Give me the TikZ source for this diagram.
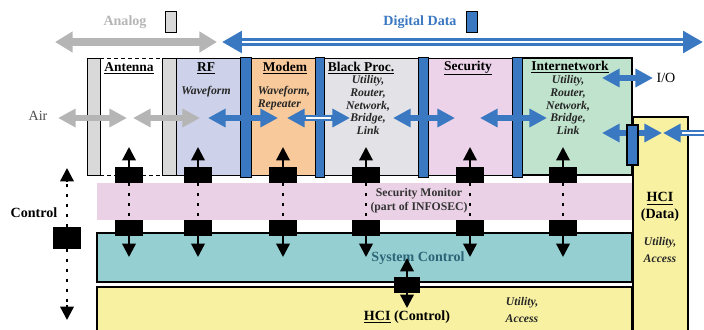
\documentclass[tikz,border=0pt]{standalone}
\usepackage{fontspec}
\setmainfont{Liberation Serif}
\usetikzlibrary{arrows.meta}
\definecolor{bluebar}{HTML}{3A78C2}
\definecolor{grayarr}{HTML}{B5B5B5}
\definecolor{barfill}{HTML}{D9D9D9}
\definecolor{rffill}{HTML}{CDD2EA}
\definecolor{modemfill}{HTML}{F8C99B}
\definecolor{blackfill}{HTML}{E3E3E7}
\definecolor{secfill}{HTML}{ECD3EA}
\definecolor{inetfill}{HTML}{BFE3CC}
\definecolor{monfill}{HTML}{EAD1E6}
\definecolor{sysfill}{HTML}{95CFD1}
\definecolor{hcifill}{HTML}{F8F1A2}
\definecolor{systext}{HTML}{2B6577}
\begin{document}
\begin{tikzpicture}[x=0.03cm,y=-0.03cm,
    lbl/.style={font=\fontsize{11.5}{13}\selectfont\bfseries},
    big/.style={font=\fontsize{12}{14}\selectfont\bfseries, align=center},
    sub/.style={font=\fontsize{10}{11}\selectfont\bfseries\itshape, align=center, text=black!85},
    garr/.style={grayarr, line width=4.3pt, {Triangle[width=15pt,length=15pt]}-{Triangle[width=15pt,length=15pt]}},
    barr/.style={garr, bluebar},
    dbl/.style={white, line width=1.5pt, shorten <=16pt, shorten >=16pt},
    varr/.style={line width=2pt, -{Triangle[width=11.5pt,length=11.5pt]}},
    dotline/.style={line width=2.5pt, dash pattern=on 2.5pt off 6pt},
    sq/.style={fill=black, inner sep=0pt, minimum width=24pt, minimum height=13.6pt},
    legendbox/.style={draw, line width=1pt, inner sep=0pt, minimum width=9pt, minimum height=18pt}]
      \useasboundingbox (0,0) rectangle (704,329);
      \node[big, text=grayarr] (analog) at (125,22) {Analog};
      \node[legendbox, fill=barfill] (akey) at (171,22) {};
      \node[big, text=bluebar] (digital) at (420,22) {Digital Data};
      \node[legendbox, fill=bluebar] (dkey) at (472,22) {};
      \coordinate (al) at (55,42); \coordinate (ar) at (217,42);
      \coordinate (dl) at (222,42); \coordinate (dr) at (703,42);
      \draw[garr, line width=6pt, {Triangle[width=17pt,length=15pt]}-{Triangle[width=17pt,length=15pt]}] (al) -- (ar);
      \draw[barr, line width=7pt, {Triangle[width=18pt,length=17pt]}-{Triangle[width=18pt,length=17pt]}] (dl) -- (dr);
      \draw[dbl, line width=2.5pt, shorten <=17pt, shorten >=17pt] (dl) -- (dr);
      % modules
      \draw[fill=barfill, line width=0.8pt] (87,58) rectangle (100,175);
      \draw[fill=barfill, line width=0.8pt] (162,58) rectangle (176,175);
      \draw[dashed] (100,58) -- (162,58);
      \draw[dashed] (100,175) -- (162,175);
      \draw[fill=rffill] (176,58) rectangle (240,175);
      \draw[fill=modemfill] (251,58) rectangle (315,175);
      \draw[fill=blackfill] (324,58) rectangle (418,175);
      \draw[fill=secfill] (428,58) rectangle (512,175);
      \draw[fill=inetfill, line width=1pt] (522,58) rectangle (632,175);
      \draw[fill=bluebar] (240,57) rectangle (251,177);
      \draw[fill=bluebar] (315,57) rectangle (324,177);
      \draw[fill=bluebar] (418,57) rectangle (428,177);
      \draw[fill=bluebar] (512,57) rectangle (522,177);
      \node[lbl] (ant) at (129,68) {\underline{Antenna}};
      \node[lbl] (rf) at (206,68) {\underline{RF}};
      \node[lbl] (modem) at (285,68) {\underline{Modem}};
      \node[lbl] (bproc) at (361,68) {\underline{Black Proc.}};
      \node[lbl] (sec) at (468,68) {\underline{Security}};
      \node[lbl] (inet) at (570,67) {\underline{Internetwork}};
      \node[sub] (rfsub) at (206,92) {Waveform};
      \node[sub, align=left] (modsub) at (284,98) {Waveform,\\Repeater};
      \node[sub] (bpsub) at (368,105) {Utility,\\Router,\\Network,\\Bridge,\\Link};
      \node[sub] (insub) at (568,105) {Utility,\\Router,\\Network,\\Bridge,\\Link};
      % lower blocks
      \fill[monfill] (97,183) rectangle (632,220);
      \draw[fill=sysfill, line width=1.3pt] (97,233) rectangle (632,282);
      \draw[fill=hcifill, line width=1.3pt] (97,287) rectangle (632,340);
      \draw[fill=hcifill, line width=1.3pt] (633,117) rectangle (688,340);
      \node[font=\fontsize{10}{12}\selectfont\bfseries, align=center, text=black!80] (secmon) at (419,201) {Security Monitor\\(part of INFOSEC)};
      \node[big, text=systext] (sysctl) at (418,258) {System Control};
      \node[big] (hcictl) at (407,317) {\underline{HCI} (Control)};
      \node[sub, font=\fontsize{10}{15}\selectfont\bfseries\itshape] (hcisub) at (522,310) {Utility,\\Access};
      \node[big] (hcidata) at (660,207) {\underline{HCI}\\(Data)};
      \node[sub, font=\fontsize{10}{14}\selectfont\bfseries\itshape] (hcidsub) at (660,250) {Utility,\\Access};
      \node[font=\fontsize{12}{14}\selectfont, text=black!70] (air) at (38,116) {Air};
      \node[font=\fontsize{12}{14}\selectfont] (io) at (666,78) {I/O};
      \node[big] (ctltext) at (34,213) {Control};
      % data paths
      \coordinate (a1) at (58,118); \coordinate (a2) at (127,118);
      \coordinate (a3) at (133,118); \coordinate (a4) at (200,118);
      \coordinate (b1) at (208,118); \coordinate (b2) at (278,118);
      \coordinate (b3) at (287,118); \coordinate (b4) at (350,118);
      \coordinate (b5) at (393,118); \coordinate (b6) at (455,118);
      \coordinate (b7) at (480,118); \coordinate (b8) at (547,118);
      \coordinate (o1) at (602,78); \coordinate (o2) at (653,78);
      \coordinate (h1) at (602,133); \coordinate (h2) at (662,133);
      \coordinate (h3) at (663,133); \coordinate (h4) at (706,133);
      \draw[garr] (a1) -- (a2);
      \draw[garr] (a3) -- (a4);
      \draw[barr] (b1) -- (b2);
      \draw[barr] (b3) -- (b4);
      \draw[dbl] (b3) -- (b4);
      \draw[barr] (b5) -- (b6);
      \draw[barr] (b7) -- (b8);
      \draw[barr] (o1) -- (o2);
      \draw[barr] (h1) -- (h2);
      \draw[barr, {Triangle[width=15pt,length=15pt]}-] (h3) -- (h4);
      \draw[dbl, shorten >=0pt] (h3) -- (h4);
      \draw[fill=bluebar, line width=1pt] (627,125) rectangle (638,165);
      % control paths
      \foreach \x [count=\i] in {129,198,283,366,470,563} {
        \node[sq] (up\i) at (\x,175) {};
        \node[sq] (dn\i) at (\x,228) {};
        \coordinate (tu\i) at (\x,147);
        \coordinate (td\i) at (\x,257);
        \draw[dotline] (up\i) -- (dn\i);
        \draw[varr] (up\i) -- (tu\i);
        \draw[varr] (dn\i) -- (td\i);
      }
      \node[sq, minimum height=18pt] (ctl) at (67,238) {};
      \coordinate (cth) at (67,182); \coordinate (ctop) at (67,168);
      \coordinate (cbh) at (67,305); \coordinate (cbot) at (67,320);
      \draw[dotline] (ctl) -- (cth);
      \draw[varr] (cth) -- (ctop);
      \draw[dotline] (ctl) -- (cbh);
      \draw[varr] (cbh) -- (cbot);
      \node[sq, minimum width=23pt] (sc) at (407,285) {};
      \coordinate (scu) at (407,258); \coordinate (scd) at (407,308);
      \draw[varr] (sc) -- (scu);
      \draw[varr] (sc) -- (scd);
    \end{tikzpicture}
\end{document}
